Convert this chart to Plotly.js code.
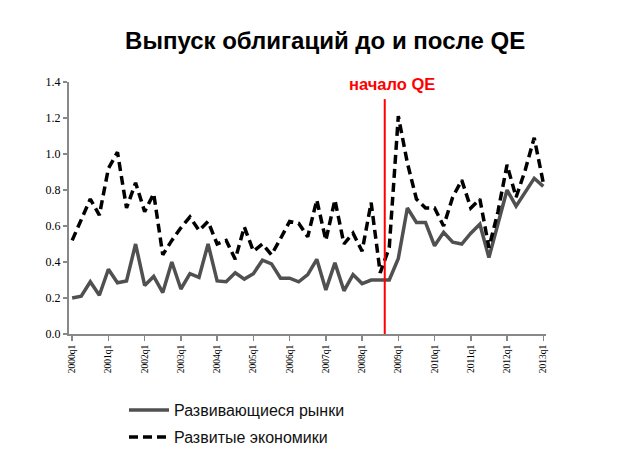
<!DOCTYPE html>
<html>
<head>
<meta charset="utf-8">
<script src="https://cdn.plot.ly/plotly-3.0.1.min.js"></script>
<style>html,body{margin:0;padding:0;background:#fff;}#chart{width:640px;height:456px;}</style>
</head>
<body>
<div id="chart"></div>
<script>
const quarters = [
  "2000q1","2000q2","2000q3","2000q4",
  "2001q1","2001q2","2001q3","2001q4",
  "2002q1","2002q2","2002q3","2002q4",
  "2003q1","2003q2","2003q3","2003q4",
  "2004q1","2004q2","2004q3","2004q4",
  "2005q1","2005q2","2005q3","2005q4",
  "2006q1","2006q2","2006q3","2006q4",
  "2007q1","2007q2","2007q3","2007q4",
  "2008q1","2008q2","2008q3","2008q4",
  "2009q1","2009q2","2009q3","2009q4",
  "2010q1","2010q2","2010q3","2010q4",
  "2011q1","2011q2","2011q3","2011q4",
  "2012q1","2012q2","2012q3","2012q4",
  "2013q1"
];
const emerging = [
  0.20,0.21,0.29,0.215,
  0.36,0.285,0.295,0.50,
  0.27,0.32,0.23,0.40,
  0.25,0.335,0.315,0.50,
  0.295,0.29,0.34,0.305,
  0.335,0.41,0.39,0.31,
  0.31,0.29,0.33,0.415,
  0.245,0.395,0.24,0.33,
  0.28,0.30,0.30,0.30,
  0.42,0.70,0.62,0.62,
  0.49,0.565,0.51,0.50,
  0.56,0.61,0.425,0.615,
  0.80,0.71,0.79,0.865,
  0.82
];
const developed = [
  0.52,0.63,0.75,0.66,
  0.92,1.01,0.70,0.84,
  0.68,0.78,0.44,0.52,
  0.59,0.65,0.575,0.625,
  0.50,0.52,0.415,0.595,
  0.46,0.50,0.44,0.53,
  0.625,0.615,0.54,0.745,
  0.52,0.745,0.50,0.56,
  0.46,0.73,0.34,0.48,
  1.21,0.95,0.75,0.70,
  0.70,0.60,0.76,0.855,
  0.70,0.75,0.48,0.68,
  0.94,0.76,0.91,1.09,
  0.84
];
const tickLabels = ["2000q1","2001q1","2002q1","2003q1","2004q1","2005q1","2006q1",
  "2007q1","2008q1","2009q1","2010q1","2011q1","2012q1","2013q1"];
const seriesNames = ["Развивающиеся рынки","Развитые экономики"];
const qeStart = 34.5; // between 2008q3 and 2008q4

const traces = [
  {x: quarters, y: emerging, name: seriesNames[0], type: "scatter", mode: "lines",
   line: {color: "#505050", width: 3.5}, legend: "legend"},
  {x: quarters, y: developed, name: seriesNames[1], type: "scatter", mode: "lines",
   line: {color: "#000000", width: 3.5, dash: "9px,5px"}, legend: "legend2"}
];

const legendCommon = {
  xref: "paper", yref: "container",
  xanchor: "left", yanchor: "middle", bgcolor: "rgba(0,0,0,0)",
  font: {family: "Liberation Sans, Arial, sans-serif", size: 16, color: "#111"},
  itemwidth: 40, borderwidth: 0
};

const layout = {
  width: 640, height: 456,
  margin: {l: 69, r: 94, t: 82, b: 122},
  paper_bgcolor: "#fff", plot_bgcolor: "#fff",
  title: {text: "Выпуск облигаций до и после QE",
    font: {family: "Liberation Sans, Arial, sans-serif", size: 24, color: "#000", weight: "bold"},
    x: 0.508, xanchor: "center", y: 0.912, yanchor: "middle"},
  xaxis: {type: "category", range: [-0.35, 52.3],
    tickmode: "array", tickvals: tickLabels, ticktext: tickLabels,
    tickangle: -90, ticks: "outside", ticklen: 5, tickcolor: "#888", tickwidth: 1.5,
    showline: true, linecolor: "#888", linewidth: 2, showgrid: false, zeroline: false,
    tickfont: {family: "Liberation Serif, Times New Roman, serif", size: 9.5, color: "#000"}},
  yaxis: {range: [0, 1.4], dtick: 0.2, tick0: 0, tickformat: ".1f",
    ticks: "outside", ticklen: 4, tickcolor: "#888", tickwidth: 1.5,
    showline: true, linecolor: "#888", linewidth: 2, showgrid: false, zeroline: false,
    tickfont: {family: "Liberation Serif, Times New Roman, serif", size: 12, color: "#000"}},
  showlegend: true,
  legend: Object.assign({x: 0.1153, y: 0.1009}, legendCommon),
  legend2: Object.assign({x: 0.1153, y: 0.0417}, legendCommon),
  shapes: [{type: "line", xref: "x", yref: "y", x0: qeStart, x1: qeStart, y0: 0, y1: 1.305,
    line: {color: "#ff0000", width: 2}}],
  annotations: [{text: "<b>начало QE</b>", xref: "x", yref: "y", x: qeStart, y: 1.388,
    xanchor: "center", yanchor: "middle", xshift: 7.5, showarrow: false,
    font: {family: "Liberation Sans, Arial, sans-serif", size: 16.5, color: "#ff0000"}}]
};

Plotly.newPlot("chart", traces, layout, {displayModeBar: false, staticPlot: true});
</script>
</body>
</html>
